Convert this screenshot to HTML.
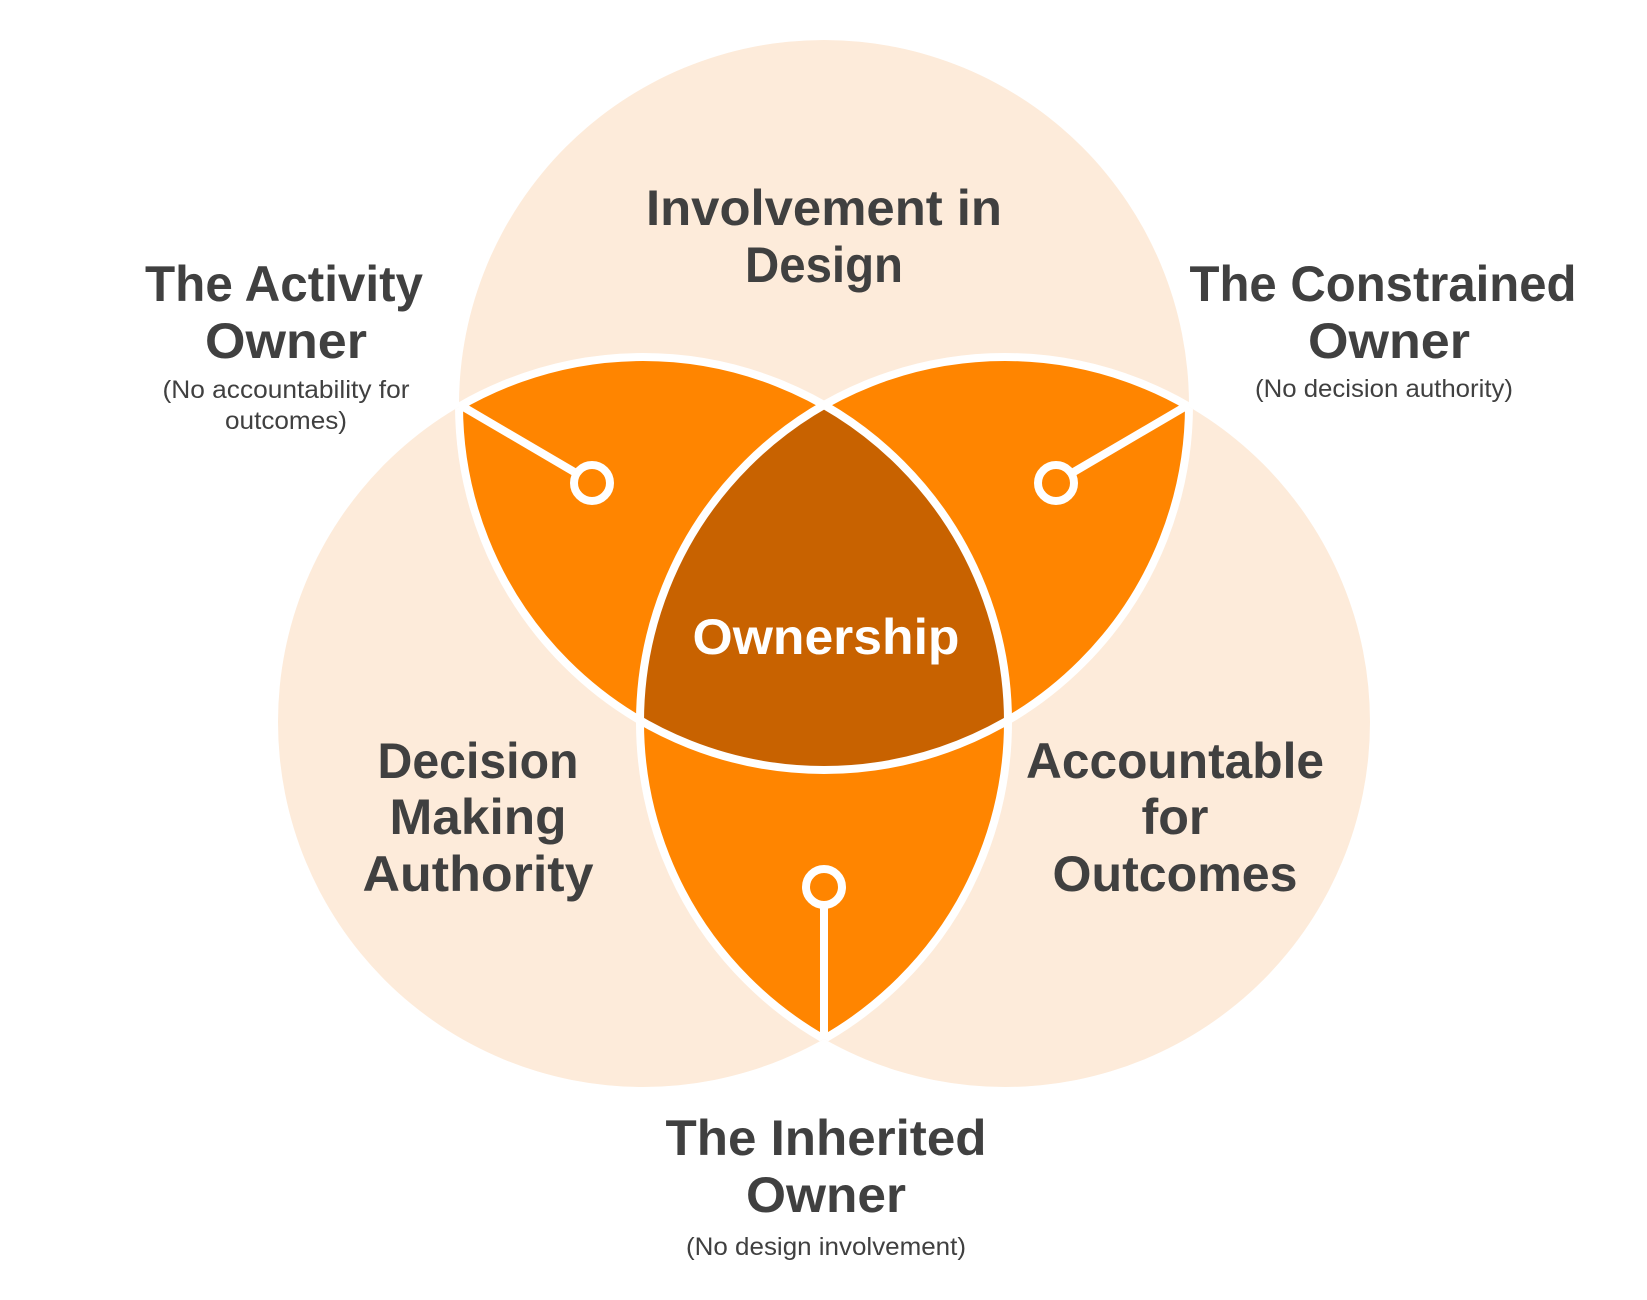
<!DOCTYPE html>
<html><head><meta charset="utf-8"><style>
html,body{margin:0;padding:0;background:#fff;}
svg{display:block;}
text{font-family:"Liberation Sans",sans-serif;fill:#404040;text-anchor:middle;}
.b{font-weight:bold;font-size:50px;}
.s{font-size:25px;}
</style></head><body>
<svg width="1647" height="1300" viewBox="0 0 1647 1300" xmlns="http://www.w3.org/2000/svg">
<defs>
<clipPath id="cT"><circle cx="824" cy="405" r="365"/></clipPath>
<clipPath id="cL"><circle cx="643" cy="722" r="365"/></clipPath>
<clipPath id="cR"><circle cx="1005" cy="722" r="365"/></clipPath>
<clipPath id="uLR"><circle cx="643" cy="722" r="365"/><circle cx="1005" cy="722" r="365"/></clipPath>
<clipPath id="uTR"><circle cx="824" cy="405" r="365"/><circle cx="1005" cy="722" r="365"/></clipPath>
<clipPath id="uTL"><circle cx="824" cy="405" r="365"/><circle cx="643" cy="722" r="365"/></clipPath>
</defs>
<g fill="#FDEBDA">
<circle cx="824" cy="405" r="365"/>
<circle cx="643" cy="722" r="365"/>
<circle cx="1005" cy="722" r="365"/>
</g>
<g fill="#FF8500">
<g clip-path="url(#cT)"><circle cx="643" cy="722" r="365"/><circle cx="1005" cy="722" r="365"/></g>
<g clip-path="url(#cL)"><circle cx="1005" cy="722" r="365"/></g>
</g>
<g clip-path="url(#cT)"><g clip-path="url(#cL)"><circle cx="1005" cy="722" r="365" fill="#C86200"/></g></g>
<g fill="none" stroke="#fff" stroke-width="8">
<circle cx="824" cy="405" r="365" clip-path="url(#uLR)"/>
<circle cx="643" cy="722" r="365" clip-path="url(#uTR)"/>
<circle cx="1005" cy="722" r="365" clip-path="url(#uTL)"/>
<line x1="460" y1="405" x2="576" y2="473"/>
<circle cx="592" cy="483" r="18" fill="#FF8500"/>
<line x1="1188" y1="405" x2="1072" y2="473"/>
<circle cx="1056" cy="483" r="18" fill="#FF8500"/>
<line x1="824" y1="1038" x2="824" y2="905"/>
<circle cx="824" cy="887" r="18" fill="#FF8500"/>
</g>
<text class="b" x="824" y="225" textLength="356" lengthAdjust="spacingAndGlyphs">Involvement in</text>
<text class="b" x="824" y="282" textLength="158" lengthAdjust="spacingAndGlyphs">Design</text>
<text class="b" x="284" y="301" textLength="278" lengthAdjust="spacingAndGlyphs">The Activity</text>
<text class="b" x="286" y="358" textLength="162" lengthAdjust="spacingAndGlyphs">Owner</text>
<text class="s" x="286" y="398" textLength="247" lengthAdjust="spacingAndGlyphs">(No accountability for</text>
<text class="s" x="286" y="429" textLength="122" lengthAdjust="spacingAndGlyphs">outcomes)</text>
<text class="b" x="1383" y="301" textLength="387" lengthAdjust="spacingAndGlyphs">The Constrained</text>
<text class="b" x="1389" y="358" textLength="162" lengthAdjust="spacingAndGlyphs">Owner</text>
<text class="s" x="1384" y="397" textLength="258" lengthAdjust="spacingAndGlyphs">(No decision authority)</text>
<text class="b" x="826" y="654" style="fill:#fff" textLength="267" lengthAdjust="spacingAndGlyphs">Ownership</text>
<text class="b" x="478" y="778" textLength="201" lengthAdjust="spacingAndGlyphs">Decision</text>
<text class="b" x="478" y="834" textLength="177" lengthAdjust="spacingAndGlyphs">Making</text>
<text class="b" x="478" y="891" textLength="231" lengthAdjust="spacingAndGlyphs">Authority</text>
<text class="b" x="1175" y="778" textLength="298" lengthAdjust="spacingAndGlyphs">Accountable</text>
<text class="b" x="1175" y="834" textLength="67" lengthAdjust="spacingAndGlyphs">for</text>
<text class="b" x="1175" y="891" textLength="245" lengthAdjust="spacingAndGlyphs">Outcomes</text>
<text class="b" x="826" y="1155" textLength="321" lengthAdjust="spacingAndGlyphs">The Inherited</text>
<text class="b" x="826" y="1212" textLength="160" lengthAdjust="spacingAndGlyphs">Owner</text>
<text class="s" x="826" y="1255" textLength="280" lengthAdjust="spacingAndGlyphs">(No design involvement)</text>
</svg>
</body></html>
